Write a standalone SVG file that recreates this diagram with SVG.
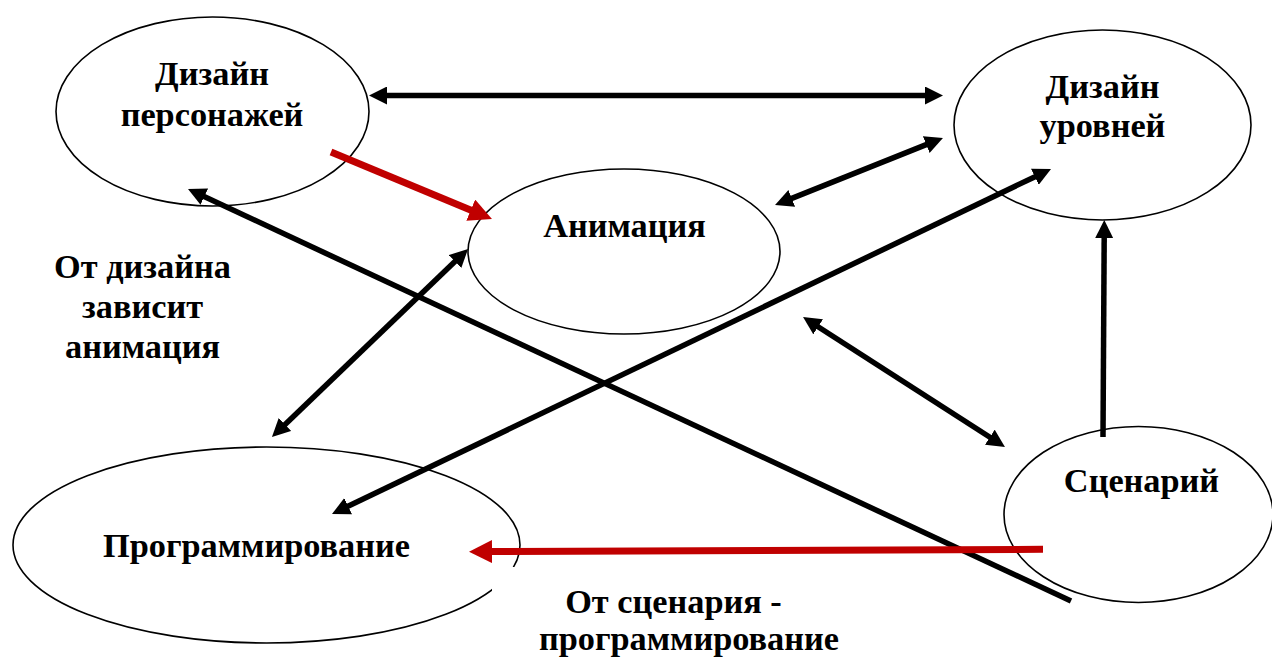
<svg xmlns="http://www.w3.org/2000/svg" width="1272" height="659" viewBox="0 0 1272 659">
<style>
.node{fill:none;stroke:#000;stroke-width:1.6}
.t{font-family:"Liberation Serif","Times New Roman",serif;font-weight:bold;font-size:34.3px;fill:#000;text-anchor:middle}
.blk{stroke:#000;stroke-width:5.5;fill:none}
.red{stroke:#C00000;stroke-width:7;fill:none}
</style>
<defs>
<marker id="ah" markerUnits="userSpaceOnUse" markerWidth="18" markerHeight="18" refX="2" refY="9" orient="auto-start-reverse">
<path d="M0,0 L18,9 L0,18 z" fill="#000"/>
</marker>
<marker id="ahr" markerUnits="userSpaceOnUse" markerWidth="23" markerHeight="23" refX="3" refY="11.5" orient="auto-start-reverse">
<path d="M0,0 L23,11.5 L0,23 z" fill="#C00000"/>
</marker>
</defs>
<rect width="1272" height="659" fill="#fff"/>
<g id="node-char">
<ellipse class="node" cx="212.5" cy="111.5" rx="156.5" ry="94.5"/>
<text class="t" x="212" y="85">Дизайн</text>
<text class="t" x="212" y="126">персонажей</text>
</g>
<g id="node-anim">
<ellipse class="node" cx="624" cy="251.5" rx="156" ry="82.5"/>
<text class="t" x="624.5" y="237">Анимация</text>
</g>
<g id="node-level">
<ellipse class="node" cx="1102.5" cy="125" rx="148.5" ry="95"/>
<text class="t" x="1102.5" y="98">Дизайн</text>
<text class="t" x="1102.5" y="137">уровней</text>
</g>
<g id="node-prog">
<ellipse class="node" cx="266.5" cy="545" rx="253.5" ry="98"/>
<text class="t" x="256.5" y="557">Программирование</text>
</g>
<g id="node-script">
<ellipse class="node" cx="1138.5" cy="514.5" rx="134.5" ry="88"/>
<text class="t" x="1141.5" y="492">Сценарий</text>
</g>
<g id="label-left">
<text class="t" x="142.5" y="278">От дизайна</text>
<text class="t" x="142.5" y="318">зависит</text>
<text class="t" x="142.5" y="358">анимация</text>
</g>
<g id="label-bottom">
<rect x="492" y="567" width="390" height="92" fill="#fff"/>
<text class="t" x="673.5" y="613">От сценария -</text>
<text class="t" x="689" y="650">программирование</text>
</g>
<g id="connectors">
<line class="blk" x1="385" y1="95.5" x2="927" y2="95.5" marker-start="url(#ah)" marker-end="url(#ah)"/>
<line class="red" x1="331" y1="152" x2="473.5" y2="211.3" marker-end="url(#ahr)"/>
<line class="blk" x1="789.9" y1="199.1" x2="928.1" y2="143.9" marker-start="url(#ah)" marker-end="url(#ah)"/>
<line class="blk" x1="346.4" y1="507.1" x2="1036.6" y2="175.9" marker-start="url(#ah)" marker-end="url(#ah)"/>
<line class="blk" x1="283.5" y1="425.9" x2="456.5" y2="260.1" marker-start="url(#ah)" marker-end="url(#ah)"/>
<line class="blk" x1="1071" y1="601" x2="202.5" y2="195.8" marker-end="url(#ah)"/>
<line class="blk" x1="816.5" y1="325.7" x2="991.5" y2="438.3" marker-start="url(#ah)" marker-end="url(#ah)"/>
<line class="blk" x1="1103" y1="437" x2="1104.2" y2="236" marker-end="url(#ah)"/>
<line class="red" x1="1043" y1="549.3" x2="489" y2="551.6" marker-end="url(#ahr)"/>
</g>
</svg>
